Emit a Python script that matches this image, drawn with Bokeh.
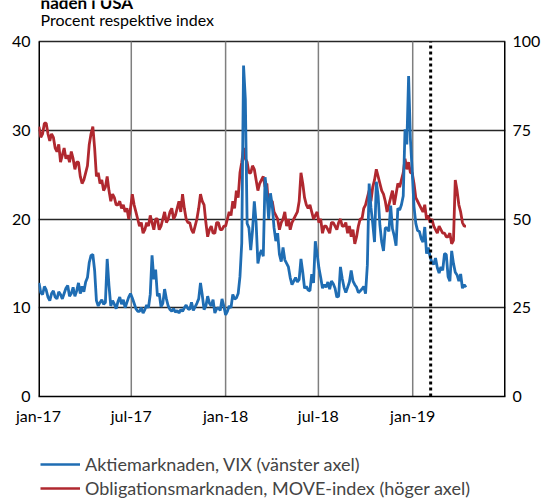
import pandas as pd
from bokeh.plotting import figure
from bokeh.layouts import column
from bokeh.models import Range1d, LinearAxis, FixedTicker, Legend, LegendItem
from bokeh.core.properties import value
from bokeh.embed import file_html
from bokeh.resources import INLINE

# Observations every 3.5 days starting 2017-01-02
vix = [
    12.8, 11.7, 11.5, 12.4, 12.0, 11.2, 10.8, 11.6, 11.9, 11.2,
    11.0, 11.8, 11.5, 11.0, 11.6, 12.2, 12.5, 11.3, 11.6, 12.3,
    11.3, 11.9, 12.8, 11.6, 12.4, 11.8, 12.9, 13.4, 15.1, 15.9,
    16.0, 14.2, 10.8, 10.2, 10.6, 10.9, 10.4, 10.6, 15.5, 12.5,
    10.2, 10.8, 10.4, 9.9, 10.7, 11.2, 10.4, 10.9, 10.0, 10.6,
    11.2, 11.6, 11.1, 10.5, 9.9, 9.6, 9.6, 10.0, 9.4, 9.8,
    10.3, 10.0, 11.5, 15.9, 13.2, 14.3, 11.3, 11.6, 10.1, 10.5,
    12.1, 11.0, 10.2, 9.8, 9.6, 9.9, 9.5, 9.7, 9.4, 9.8,
    9.6, 10.0, 10.3, 9.9, 9.8, 10.6, 9.7, 10.1, 10.5, 11.0,
    12.8, 11.4, 9.8, 10.2, 11.3, 10.5, 10.2, 10.9, 9.4, 9.9,
    10.0, 9.7, 11.0, 10.2,
    9.2, 9.6, 10.2, 10.0, 11.5, 11.0, 11.1, 11.6, 13.5, 17.3,
    37.3, 33.5, 19.5, 19.0, 16.5, 18.7, 22.0, 19.6, 15.0, 16.0,
    16.5, 15.8, 24.7, 23.0, 20.0, 22.9, 21.5, 19.0, 17.5, 18.4,
    16.0, 15.2, 16.8, 15.4, 15.0, 14.6, 13.4, 12.6, 13.0, 13.4,
    12.9, 13.2, 15.5, 14.0, 12.2, 12.4, 12.0, 11.9, 13.8, 12.8,
    17.5, 16.1, 14.5, 13.4, 12.2, 12.6, 12.3, 12.9, 12.1, 13.0,
    12.7, 12.2, 11.2, 11.3, 14.6, 13.3, 12.3, 11.7, 12.3, 12.9,
    14.2, 13.0, 12.6, 12.3, 11.7, 11.9, 12.1, 12.4, 11.6, 14.8,
    24.0, 21.3, 19.5, 17.4, 24.2, 22.6, 19.3, 17.4, 16.4, 19.0,
    19.0, 18.6, 21.5, 18.9, 18.1, 17.0, 21.2, 21.0, 21.6, 22.6,
    30.1, 28.4, 36.1, 29.0, 25.4, 21.4,
    19.5, 18.7, 18.6, 17.8, 17.4, 19.1, 16.1, 16.8, 15.7, 15.1,
    14.9, 15.6, 14.5, 13.9, 14.6, 14.2, 16.1, 16.0, 13.5, 13.0,
    16.4, 15.0, 14.0, 13.7, 13.0, 13.8, 12.2, 12.6, 12.3,
]
move = [
    76, 73, 74, 77, 77, 74, 72, 74, 73, 70,
    69, 71, 66, 68, 70, 67, 68, 66, 69, 67,
    64, 66, 66, 62, 60, 61, 63, 65, 71, 74,
    76, 70, 62, 63, 60, 61, 58, 59, 62, 58,
    55, 57, 56, 54, 54, 55, 53, 54, 52, 53,
    50, 53, 57, 54, 52, 50, 48, 49, 46, 47,
    49, 48, 51, 49, 47, 50, 50, 47, 48, 50,
    52, 49, 50, 52, 53, 50, 51, 53, 55, 52,
    57, 53, 50, 49, 49, 47, 46, 48, 50, 53,
    57, 55, 54, 49, 45, 47, 48, 46, 46, 49,
    49, 47, 47, 48,
    48, 50, 52, 51, 55, 53, 58, 56, 63, 66,
    70, 67, 66, 63, 63, 65, 64, 61, 58, 60,
    61, 62, 59, 60, 53, 55, 55, 52, 51, 50,
    47, 49, 50, 52, 48, 50, 47, 49, 50, 51,
    52, 55, 63, 60, 56, 54, 53, 54, 52, 50,
    51, 52, 49, 50, 46, 48, 48, 47, 46, 49,
    49, 48, 47, 49, 50, 48, 48, 49, 46, 48,
    45, 47, 43, 45, 48, 50, 50, 53, 54, 56,
    58, 55, 59, 61, 64, 62, 60, 58, 57, 55,
    52, 54, 56, 58, 54, 57, 60, 59, 61, 63,
    67, 64, 66, 63, 63, 60,
    56, 55, 54, 53, 52, 54, 50, 51, 49, 50,
    48, 47, 46, 48, 47, 46, 46, 45, 45, 46,
    43, 44, 61, 58, 54, 52, 49, 48, 48,
]
series_start = "2017-01-02"

tick_dates = ["2017-01-01", "2017-07-01", "2018-01-01", "2018-07-01", "2019-01-01", "2019-07-01"]
tick_labels = ["jan-17", "jul-17", "jan-18", "jul-18", "jan-19", ""]
left_ticks = [0, 10, 20, 30, 40]
right_ticks = [0, 25, 50, 75, 100]
marker_date = "2019-02-05"

title_text = "naden i USA"
subtitle_text = "Procent respektive index"
labels = ["Aktiemarknaden, VIX (vänster axel)", "Obligationsmarknaden, MOVE-index (höger axel)"]


def ms(d):
    return pd.Timestamp(d).value // 10**6


vix_x = [ms(d) for d in pd.date_range(series_start, periods=len(vix), freq="84h")]
move_x = [ms(d) for d in pd.date_range(series_start, periods=len(move), freq="84h")]
tick_ms = [ms(d) for d in tick_dates]

FONT = "Lato"
BLUE = "#1f6db3"
RED = "#b0282f"
LW = 2.8

# frame spans page y 0..396 px; the 40-line sits at y=41
FRAME_H = 396
Y_TOP = 40 * FRAME_H / (FRAME_H - 41)
R_TOP = 100 * FRAME_H / (FRAME_H - 41)


def ydata(py):
    return (FRAME_H - py) / FRAME_H * Y_TOP


DAY = 86400000

p = figure(width=543, height=440, output_backend="svg", toolbar_location=None,
           x_axis_type="datetime", title=None,
           x_range=Range1d(tick_ms[0], tick_ms[-1]), y_range=Range1d(0, Y_TOP),
           min_border_left=38, min_border_right=35, min_border_top=0, min_border_bottom=44)
p.outline_line_color = None
p.background_fill_color = "white"
p.border_fill_color = "white"

p.extra_y_ranges = {"right": Range1d(0, R_TOP)}
rax = LinearAxis(y_range_name="right", ticker=FixedTicker(ticks=right_ticks))
p.add_layout(rax, "right")

for ax in [p.xaxis[0], p.yaxis[0], rax]:
    ax.major_label_text_font = FONT
    ax.major_label_text_font_size = "16px"
    ax.major_label_text_color = "black"
    ax.major_tick_line_color = None
    ax.minor_tick_line_color = None
    ax.major_tick_out = 0
    ax.major_tick_in = 0
    ax.minor_tick_out = 0
    ax.minor_tick_in = 0

p.yaxis[0].axis_line_color = None
rax.axis_line_color = None
p.xaxis[0].axis_line_color = "black"
p.xaxis[0].axis_line_width = 1.5

p.yaxis[0].ticker = FixedTicker(ticks=left_ticks)
p.yaxis[0].major_label_standoff = 8
rax.major_label_standoff = 7
p.xaxis[0].ticker = FixedTicker(ticks=tick_ms)
p.xaxis[0].major_label_overrides = {t: l for t, l in zip(tick_ms, tick_labels)}
p.xaxis[0].major_label_standoff = 9

p.ygrid.ticker = FixedTicker(ticks=left_ticks)
p.ygrid.grid_line_color = "#262626"
p.ygrid.grid_line_width = 1.5
p.xgrid.visible = False

# vertical month gridlines (only up to the 40-line)
p.segment(x0=tick_ms[1:-1], y0=[0] * 4, x1=tick_ms[1:-1], y1=[40] * 4,
          line_color="#7f7f7f", line_width=1.5)
# left and right axis lines
p.segment(x0=[tick_ms[0], tick_ms[-1]], y0=[0, 0], x1=[tick_ms[0], tick_ms[-1]], y1=[40, 40],
          line_color="black", line_width=3)

rr = p.line(move_x, move, y_range_name="right", line_color=RED, line_width=LW)
rb = p.line(vix_x, vix, line_color=BLUE, line_width=LW)

p.segment(x0=[ms(marker_date)], y0=[0], x1=[ms(marker_date)], y1=[40],
          line_color="black", line_width=3, line_dash="3 3")

p.text(x=[tick_ms[0] + 4 * DAY], y=[ydata(1.5)], text=[title_text],
       text_font=value(FONT), text_font_style="bold", text_font_size="17px",
       text_baseline="alphabetic", text_color="black")
p.text(x=[tick_ms[0] + 4 * DAY], y=[ydata(19)], text=[subtitle_text],
       text_font=value(FONT), text_font_size="16px",
       text_baseline="alphabetic", text_color="black")

# legend strip below the chart (series re-drawn off-screen to drive the legend)
q = figure(width=543, height=59, output_backend="svg", toolbar_location=None,
           x_range=Range1d(0, 1), y_range=Range1d(0, 1), title=None,
           x_axis_location=None, y_axis_location=None,
           min_border_left=0, min_border_right=0, min_border_top=0, min_border_bottom=0)
q.outline_line_color = None
q.xgrid.visible = False
q.ygrid.visible = False
qb = q.line(vix_x, vix, line_color=BLUE, line_width=2.5)
qr = q.line(move_x, move, line_color=RED, line_width=2.5)
legend = Legend(items=[LegendItem(label=labels[0], renderers=[qb]),
                       LegendItem(label=labels[1], renderers=[qr])],
                location=(2, 0), orientation="vertical",
                glyph_width=40, glyph_height=20, label_height=20, spacing=2,
                label_standoff=5, padding=0, margin=0,
                border_line_color=None, background_fill_alpha=0,
                label_text_font=FONT, label_text_font_size="18px")
q.add_layout(legend, "center")

open("out.html", "w").write(file_html(column(p, q, spacing=0), INLINE))
